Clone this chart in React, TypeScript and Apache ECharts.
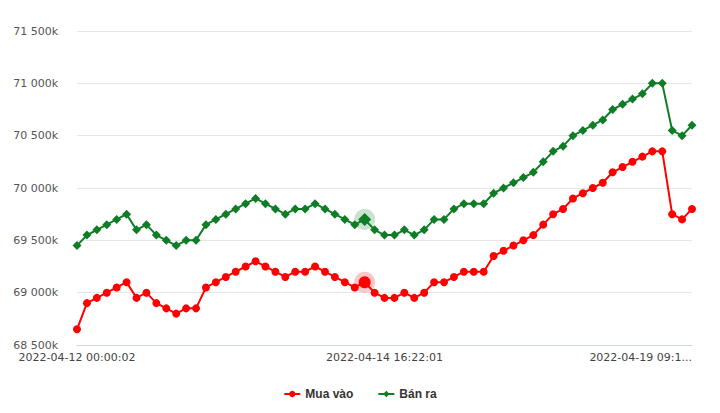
import React, { useEffect, useRef } from "react";
import * as echarts from "echarts";

const buyValues = [
  68650, 68900, 68950, 69000, 69050, 69100, 68950, 69000, 68900, 68850, 68800, 68850, 68850,
  69050, 69100, 69150, 69200, 69250, 69300, 69250, 69200, 69150, 69200, 69200, 69250, 69200,
  69150, 69100, 69050, 69100, 69000, 68950, 68950, 69000, 68950, 69000, 69100, 69100,
  69150, 69200, 69200, 69200, 69350, 69400, 69450, 69500, 69550, 69650, 69750, 69800, 69900,
  69950, 70000, 70050, 70150, 70200, 70250, 70300, 70350, 70350, 69750, 69700, 69800,
];
const sellValues = [
  69450, 69550, 69600, 69650, 69700, 69750, 69600, 69650, 69550, 69500, 69450, 69500, 69500,
  69650, 69700, 69750, 69800, 69850, 69900, 69850, 69800, 69750, 69800, 69800, 69850, 69800,
  69750, 69700, 69650, 69700, 69600, 69550, 69550, 69600, 69550, 69600, 69700, 69700,
  69800, 69850, 69850, 69850, 69950, 70000, 70050, 70100, 70150, 70250, 70350, 70400, 70500,
  70550, 70600, 70650, 70750, 70800, 70850, 70900, 71000, 71000, 70550, 70500, 70600,
];
const tickIndices = [0, 31, 62];
const tickLabels = ["2022-04-12 00:00:02", "2022-04-14 16:22:01", "2022-04-19 09:1..."];
const seriesNames = ["Mua vào", "Bán ra"];
const highlightIndex = 29;

const RED = "#ff0000";
const GREEN = "#0e7d26";

function fmtK(v: number) {
  const s = String(Math.round(v));
  return s.replace(/\B(?=(\d{3})+(?!\d))/g, " ") + "k";
}

export default function App() {
  const ref = useRef<HTMLDivElement>(null);
  useEffect(() => {
    if (!ref.current) return;
    const chart = echarts.init(ref.current, undefined, { renderer: "svg" });
    const categories = buyValues.map((_, i) => String(i));
    chart.setOption({
      animation: false,
      textStyle: { fontFamily: "DejaVu Sans" },
      grid: { left: 77, right: 28, top: 31, bottom: 68, containLabel: false },
      legend: {
        bottom: 8,
        left: "center",
        itemWidth: 16,
        itemHeight: 8,
        itemGap: 24,
        textStyle: { fontFamily: "Liberation Sans", fontWeight: "bold", fontSize: 12, color: "#333" },
        data: seriesNames,
      },
      xAxis: {
        type: "category",
        data: categories,
        boundaryGap: false,
        axisLine: { lineStyle: { color: "#ccd6eb" } },
        axisTick: { show: false },
        axisLabel: {
          interval: (i: number) => tickIndices.includes(i),
          formatter: (_: string, i: number) => {
            const k = tickIndices.indexOf(i);
            return k >= 0 ? tickLabels[k] : "";
          },
          color: "#444",
          fontSize: 11,
          fontFamily: "DejaVu Sans",
          margin: 7,
          alignMaxLabel: "right",
          showMinLabel: true,
          showMaxLabel: true,
          hideOverlap: false,
        },
        splitLine: { show: false },
      },
      yAxis: {
        type: "value",
        min: 68500,
        max: 71500,
        interval: 500,
        axisLine: { show: false },
        axisTick: { show: false },
        axisLabel: { formatter: fmtK, color: "#555", fontSize: 11, fontFamily: "DejaVu Sans", margin: 19 },
        splitLine: { lineStyle: { color: "#e6e6e6", width: 1 } },
      },
      series: [
        {
          name: seriesNames[0],
          type: "line",
          data: buyValues,
          symbol: "circle",
          symbolSize: 8,
          showSymbol: true,
          showAllSymbol: true,
          lineStyle: { color: RED, width: 2 },
          itemStyle: { color: RED },
          markPoint: {
            silent: true,
            label: { show: false },
            data: [
              { coord: [highlightIndex, buyValues[highlightIndex]], symbol: "circle", symbolSize: 21, itemStyle: { color: "rgba(255,0,0,0.22)" } },
              { coord: [highlightIndex, buyValues[highlightIndex]], symbol: "circle", symbolSize: 12, itemStyle: { color: RED } },
            ],
          },
        },
        {
          name: seriesNames[1],
          type: "line",
          data: sellValues,
          symbol: "diamond",
          symbolSize: 9,
          showSymbol: true,
          showAllSymbol: true,
          lineStyle: { color: GREEN, width: 2 },
          itemStyle: { color: GREEN },
          markPoint: {
            silent: true,
            label: { show: false },
            data: [
              { coord: [highlightIndex, sellValues[highlightIndex]], symbol: "circle", symbolSize: 21, itemStyle: { color: "rgba(14,125,38,0.22)" } },
              { coord: [highlightIndex, sellValues[highlightIndex]], symbol: "diamond", symbolSize: 13, itemStyle: { color: GREEN } },
            ],
          },
        },
      ],
    });
    return () => chart.dispose();
  }, []);
  return (
    <div
      ref={ref}
      style={{ position: "fixed", left: 0, top: 0, width: 720, height: 413, background: "#fff" }}
    />
  );
}
